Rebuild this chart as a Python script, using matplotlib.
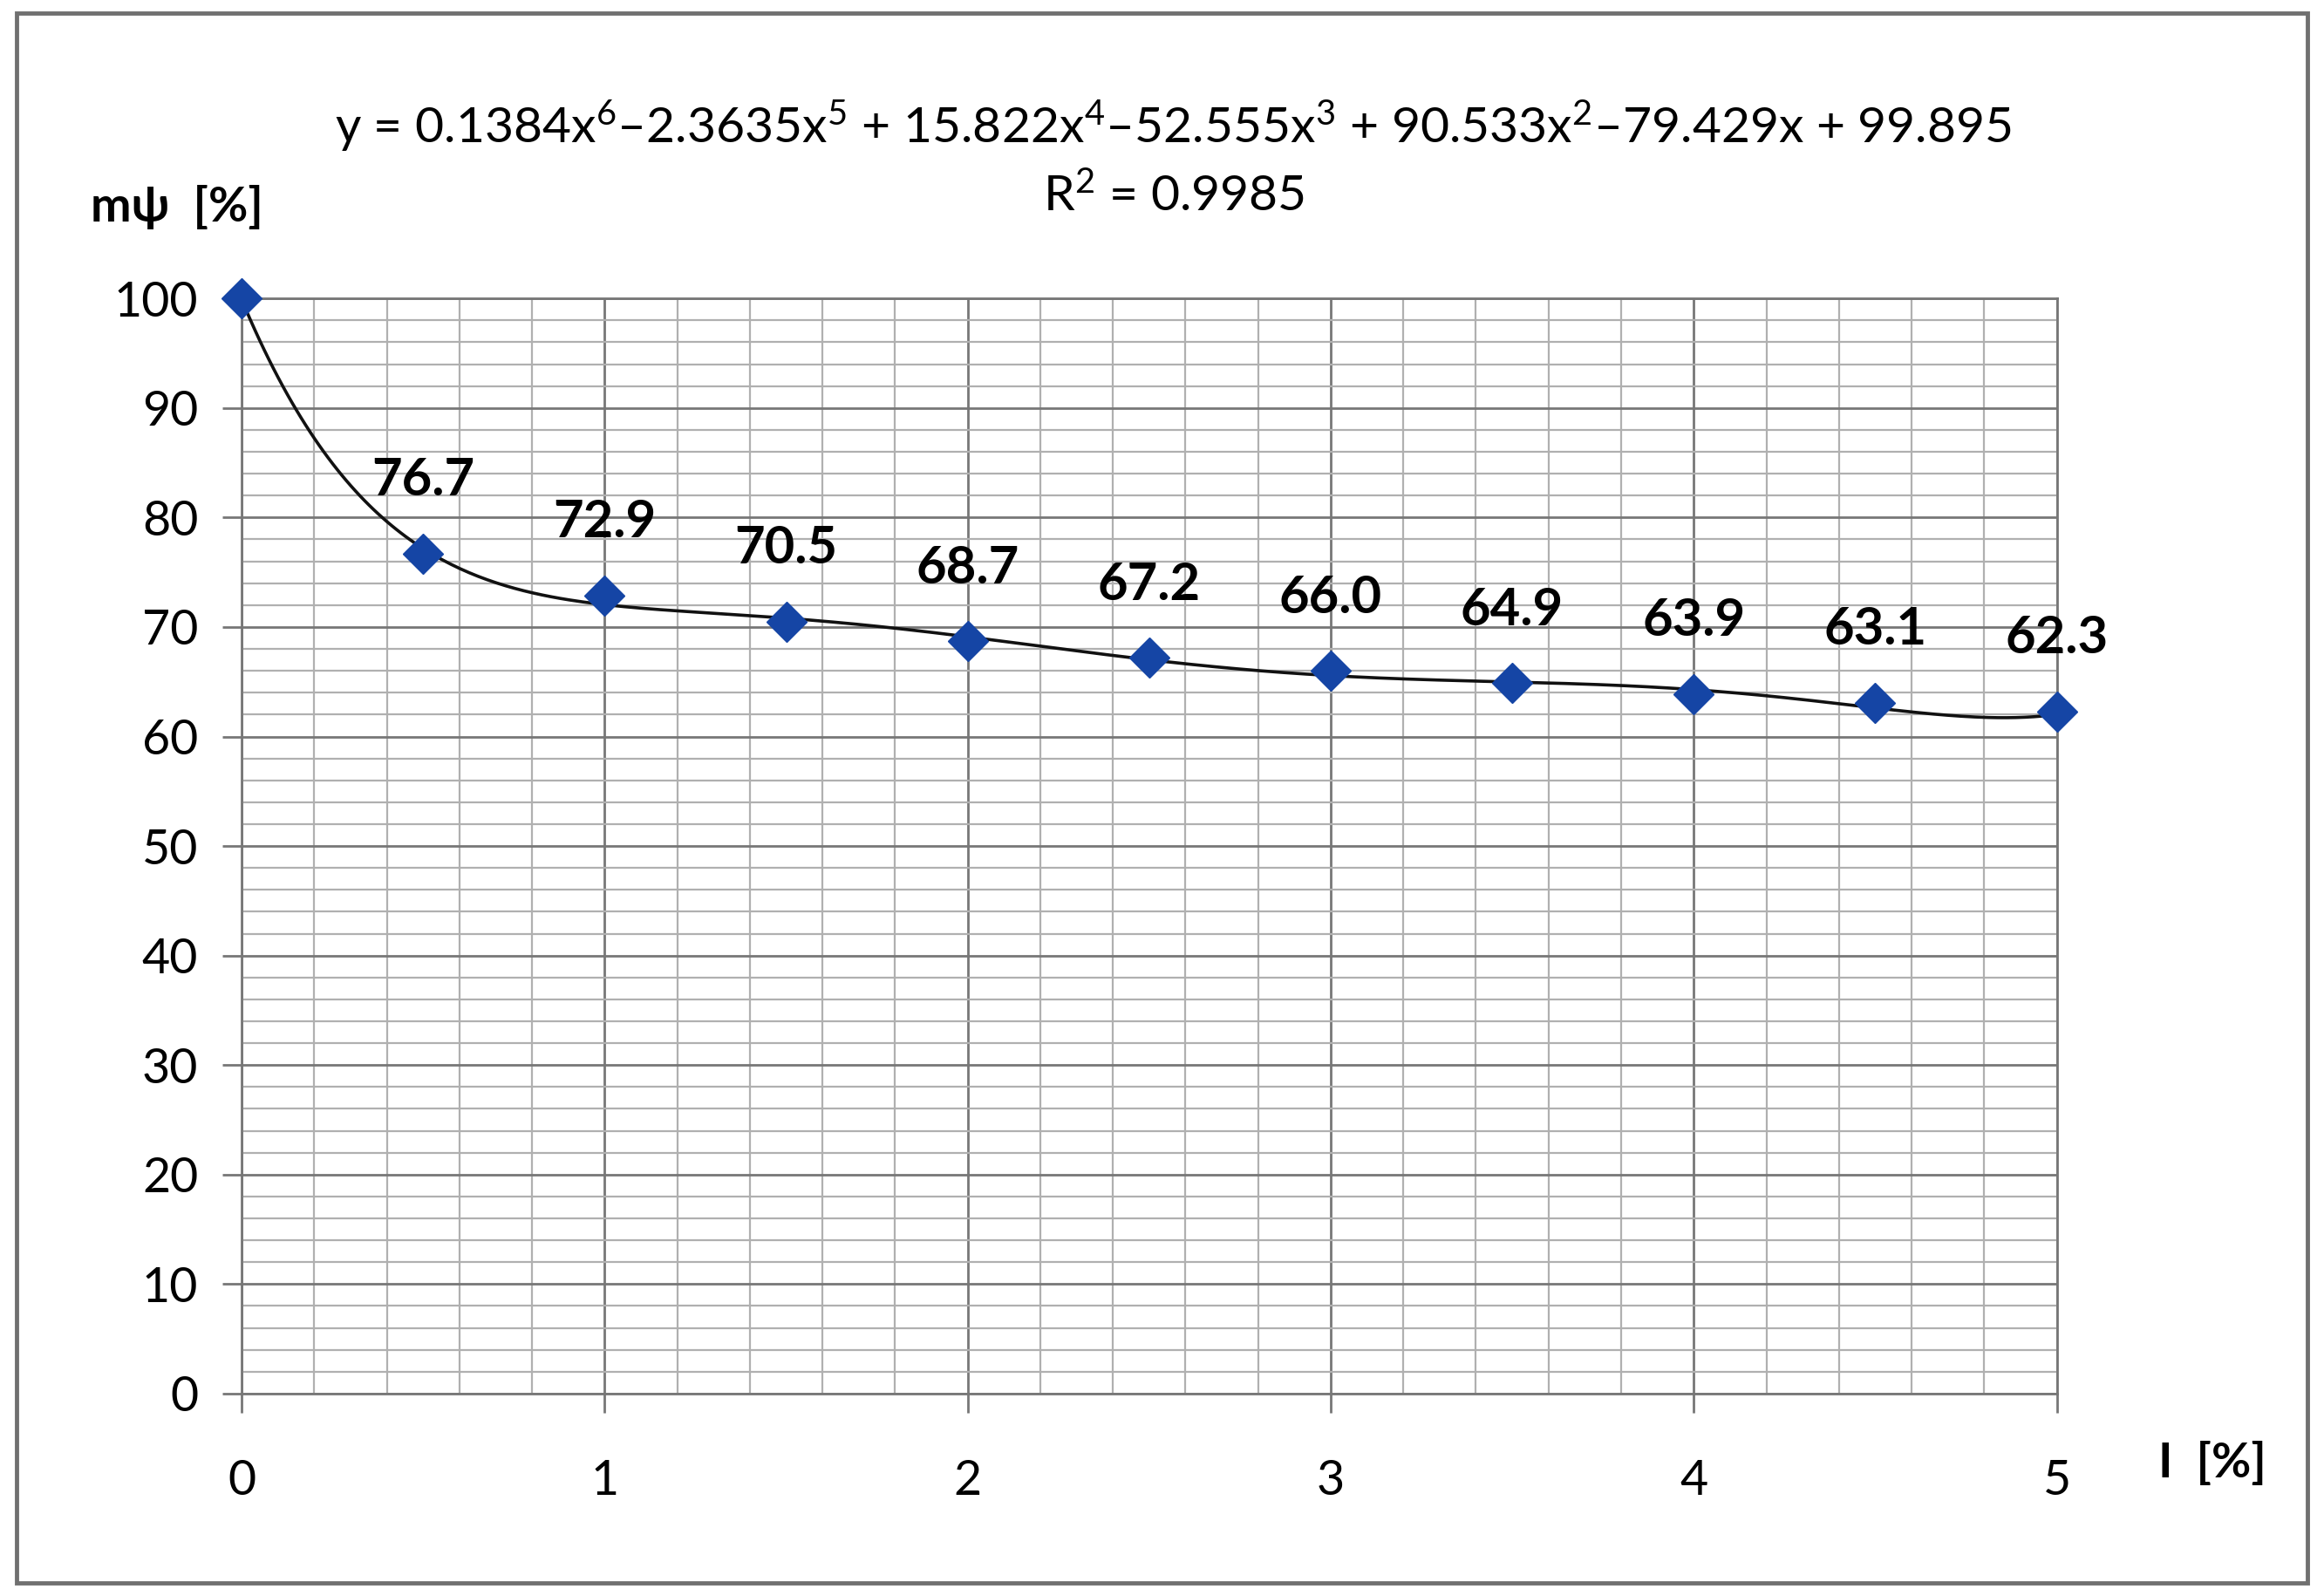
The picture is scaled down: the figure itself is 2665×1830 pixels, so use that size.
import matplotlib
matplotlib.use("Agg")
from matplotlib import pyplot as plt
from matplotlib.patches import Rectangle
import numpy as np

plt.rcParams['font.family'] = ['Lato', 'DejaVu Sans']
plt.rcParams['mathtext.fontset'] = 'custom'
plt.rcParams['mathtext.rm'] = 'Lato'
plt.rcParams['mathtext.default'] = 'regular'

# measured points
conc = [0, 0.5, 1, 1.5, 2, 2.5, 3, 3.5, 4, 4.5, 5]
m_psi = [100, 76.7, 72.9, 70.5, 68.7, 67.2, 66.0, 64.9, 63.9, 63.1, 62.3]
point_labels = ["", "76.7", "72.9", "70.5", "68.7", "67.2", "66.0", "64.9", "63.9", "63.1", "62.3"]

# 6th order trendline from the chart
coefs = [0.1384, -2.3635, 15.822, -52.555, 90.533, -79.429, 99.895]
eq_text = (r"y = 0.1384x$^{6}$–2.3635x$^{5}$ + 15.822x$^{4}$–52.555x$^{3}$"
           r" + 90.533x$^{2}$–79.429x + 99.895")
r2_text = r"R$^{2}$ = 0.9985"

fig = plt.figure(figsize=(26.65, 18.3), dpi=100)
ax = fig.add_axes([0.104, 0.1268, 0.781, 0.6862])

major_c = '#777777'
minor_c = '#b0b0b0'

ax.set_xlim(0, 5)
ax.set_ylim(0, 100)
ax.set_xticks(np.arange(0, 6, 1))
ax.set_xticks(np.arange(0, 5.01, 0.2), minor=True)
ax.set_yticks(np.arange(0, 101, 10))
ax.set_yticks(np.arange(0, 101, 2), minor=True)
ax.grid(which='major', color=major_c, lw=2.0)
ax.grid(which='minor', color=minor_c, lw=1.6)
ax.set_axisbelow(True)
for s in ax.spines.values():
    s.set_color(major_c)
    s.set_linewidth(2.0)

ax.tick_params(which='major', direction='out', length=16, width=2.0, color=major_c,
               labelsize=40, labelcolor='black')
ax.tick_params(axis='y', which='major', pad=20)
ax.tick_params(axis='x', which='major', pad=38)
ax.tick_params(which='minor', length=0)

xx = np.linspace(0, 5, 400)
ax.plot(xx, np.polyval(coefs, xx), color='#111111', lw=2.6, zorder=3)
ax.plot(conc, m_psi, ls='none', marker='D', ms=23, color='#1545a5',
        mec='#1545a5', zorder=4, clip_on=False)

for x, y, lab in zip(conc, m_psi, point_labels):
    if lab:
        ax.annotate(lab, (x, y), xytext=(0, 60), textcoords='offset points',
                    ha='center', va='center', fontsize=43, fontweight='bold')

fig.text(0.505, 0.921, eq_text, ha='center', va='center', fontsize=41)
fig.text(0.505, 0.877, r2_text, ha='center', va='center', fontsize=41)
fig.text(0.039, 0.870, "mψ  [%]", ha='left', va='center', fontsize=40, fontweight='bold')
fig.text(0.952, 0.0835, "I  [%]", ha='center', va='center', fontsize=40, fontweight='bold')

fig.patches.append(Rectangle((0.007, 0.008), 0.986, 0.984, transform=fig.transFigure,
                             fill=False, edgecolor='#707070', lw=3.5))

fig.savefig("out.png", dpi=100)
